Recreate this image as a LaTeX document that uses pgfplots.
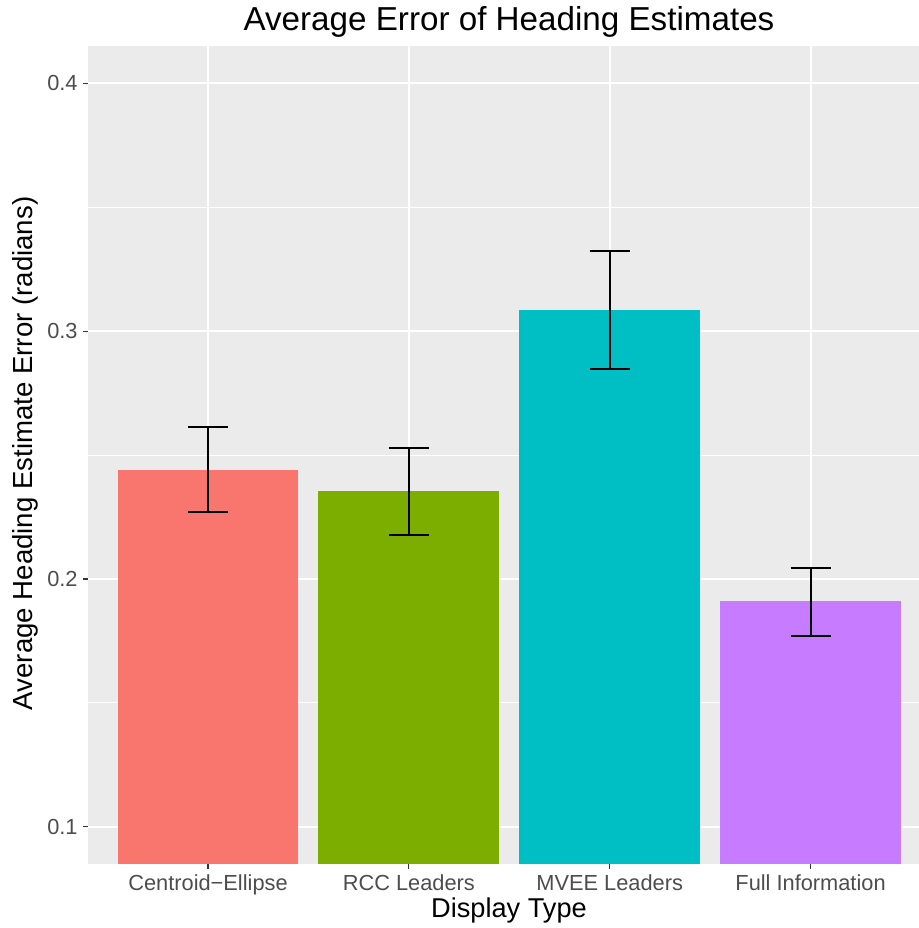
\documentclass[border=0pt]{standalone}
\usepackage{fontspec}
\setmainfont{Liberation Sans}
\usepackage{pgfplots}
\pgfplotsset{compat=1.18}
\definecolor{panel}{HTML}{EBEBEB}
\definecolor{c1}{HTML}{F8766D}
\definecolor{c2}{HTML}{7CAE00}
\definecolor{c3}{HTML}{00BFC4}
\definecolor{c4}{HTML}{C77CFF}
\definecolor{tickc}{HTML}{333333}
\definecolor{labc}{HTML}{4D4D4D}
\begin{document}
\begin{tikzpicture}
\begin{axis}[
  at={(0,0)}, anchor=south west,
  scale only axis, width=415.5pt, height=409pt,
  xmin=0.4024, xmax=4.54, ymin=0.085, ymax=0.4151,
  axis background/.style={fill=panel},
  axis line style={draw=none},
  ybar, bar width=0.9, bar shift=0pt,
  xtick={1,2,3,4},
  xticklabels={Centroid−Ellipse,RCC Leaders,MVEE Leaders,Full Information},
  ytick={0.1,0.2,0.3,0.4},
  minor ytick={0.15,0.25,0.35},
  xmajorgrids, ymajorgrids, yminorgrids,
  major grid style={white, line width=1pt},
  minor grid style={white, line width=0.5pt},
  tick align=outside, xtick pos=bottom, ytick pos=left,
  major tick length=2.5pt, minor tick length=0pt,
  tick style={tickc, line width=0.55pt},
  /pgf/number format/assume math mode=true,
  yticklabel style={/pgf/number format/fixed, font=\fontsize{10.9}{12}\selectfont, color=labc, anchor=east, inner sep=0pt, xshift=-2.5pt},
  xticklabel style={font=\fontsize{10.9}{12}\selectfont, color=labc, anchor=base, inner sep=0pt, yshift=-10.5pt},
  title={Average Error of Heading Estimates},
  title style={at={(axis description cs:0.5066,1.0037)}, anchor=base, inner sep=0pt, font=\fontsize{16.6}{19}\selectfont},
  xlabel={Display Type},
  xlabel style={at={(axis description cs:0.5066,-0.0660)}, anchor=base, inner sep=0pt, font=\fontsize{13.6}{16}\selectfont},
  ylabel={Average Heading Estimate Error (radians)},
  ylabel style={at={(axis description cs:-0.0662,0.502)}, anchor=base, inner sep=0pt, font=\fontsize{13.8}{16}\selectfont},
  error bars/error bar style={black, line width=1pt},
  error bars/error mark options={black, line width=1pt, mark size=10pt, rotate=90},
]
\addplot[fill=c1, draw=none, error bars/.cd, y dir=both, y explicit]
  coordinates {(1,0.2441) += (0,0.0173) -= (0,0.0172)};
\addplot[fill=c2, draw=none, error bars/.cd, y dir=both, y explicit]
  coordinates {(2,0.2355) += (0,0.0172) -= (0,0.0177)};
\addplot[fill=c3, draw=none, error bars/.cd, y dir=both, y explicit]
  coordinates {(3,0.3085) += (0,0.0237) -= (0,0.0237)};
\addplot[fill=c4, draw=none, error bars/.cd, y dir=both, y explicit]
  coordinates {(4,0.1911) += (0,0.0134) -= (0,0.0139)};
\end{axis}
\pgfresetboundingbox
\useasboundingbox (-44pt,-32pt) rectangle (415.5pt,432pt);
\end{tikzpicture}
\end{document}
